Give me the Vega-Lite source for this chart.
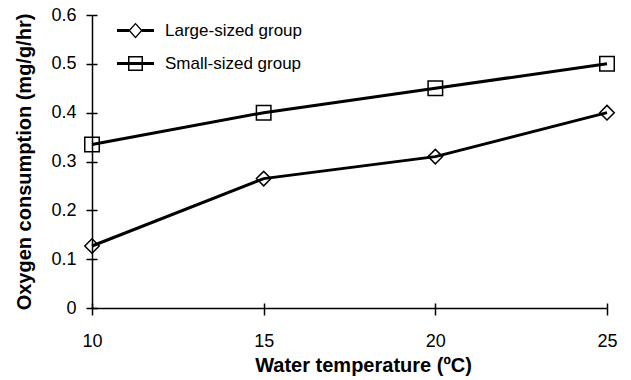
{
  "$schema": "https://vega.github.io/schema/vega-lite/v6.json",
  "width": 515,
  "height": 293,
  "autosize": "none",
  "padding": {"left": 92, "top": 15, "right": 24, "bottom": 72},
  "background": "white",
  "config": {
    "view": {"stroke": null},
    "font": "Liberation Sans",
    "axis": {
      "grid": false,
      "domainColor": "black",
      "tickColor": "black",
      "labelColor": "black",
      "titleColor": "black",
      "labelFont": "Liberation Sans",
      "titleFont": "Liberation Sans",
      "domainWidth": 1.5,
      "tickWidth": 1.5,
      "labelFlush": false
    }
  },
  "data": {
    "values": [
      {"temp": 10, "value": 0.127, "group": "Large-sized group"},
      {"temp": 15, "value": 0.265, "group": "Large-sized group"},
      {"temp": 20, "value": 0.31, "group": "Large-sized group"},
      {"temp": 25, "value": 0.4, "group": "Large-sized group"},
      {"temp": 10, "value": 0.335, "group": "Small-sized group"},
      {"temp": 15, "value": 0.4, "group": "Small-sized group"},
      {"temp": 20, "value": 0.45, "group": "Small-sized group"},
      {"temp": 25, "value": 0.5, "group": "Small-sized group"}
    ]
  },
  "layer": [
    {
      "mark": {"type": "line", "color": "black", "strokeWidth": 3},
      "encoding": {
        "x": {
          "field": "temp", "type": "quantitative",
          "scale": {"domain": [10, 25], "nice": false, "zero": false},
          "axis": {
            "values": [10, 15, 20, 25], "tickSize": 7, "labelFontSize": 18,
            "labelPadding": 17, "labelFlush": false, "title": "Water temperature (ºC)",
            "titleFontSize": 20, "titleFontWeight": "bold", "titlePadding": 5, "titleX": 271
          }
        },
        "y": {
          "field": "value", "type": "quantitative",
          "scale": {"domain": [0, 0.6], "nice": false},
          "axis": {
            "values": [0, 0.1, 0.2, 0.3, 0.4, 0.5, 0.6], "format": ".1~f",
            "tickSize": 6, "labelFontSize": 18, "labelPadding": 10, "labelFlush": false,
            "title": "Oxygen consumption (mg/g/hr)", "titleFontSize": 20,
            "titleFontWeight": "bold", "titlePadding": 16
          }
        },
        "detail": {"field": "group"}
      }
    },
    {
      "mark": {"type": "point", "filled": false, "color": "black", "strokeWidth": 1.5, "size": 210, "opacity": 1},
      "encoding": {
        "x": {
          "field": "temp", "type": "quantitative",
          "axis": {"orient": "top", "offset": -293, "values": [10, 15, 20, 25], "tickSize": 5, "labels": false, "domain": false, "title": null}
        },
        "y": {
          "field": "value", "type": "quantitative",
          "axis": {"orient": "right", "offset": -515, "values": [0, 0.1, 0.2, 0.3, 0.4, 0.5, 0.6], "tickSize": 5, "labels": false, "domain": false, "title": null}
        },
        "shape": {
          "field": "group", "type": "nominal",
          "scale": {"domain": ["Large-sized group", "Small-sized group"], "range": ["diamond", "square"]},
          "legend": null
        }
      }
    },
    {
      "mark": {"type": "point", "filled": true, "color": "black", "size": 225, "opacity": 0},
      "encoding": {
        "x": {"field": "temp", "type": "quantitative", "axis": null},
        "y": {"field": "value", "type": "quantitative", "axis": null},
        "shape": {
          "field": "group", "type": "nominal",
          "scale": {
            "domain": ["Large-sized group", "Small-sized group"],
            "range": [
              "M-2.47,-0.2H-0.85V0.2H-2.47ZM0.85,-0.2H2.47V0.2H0.85ZM0.95,0L0,1.05L-0.95,0L0,-1.05ZM0.7,0L0,-0.8L-0.7,0L0,0.8Z",
              "M-2.47,-0.2H2.47V0.2H-2.47ZM-1,-1H1V1H-1ZM-0.8,-0.8V0.8H0.8V-0.8Z"
            ]
          },
          "legend": {
            "title": null, "orient": "none", "legendX": 35, "legendY": 7,
            "padding": 0, "symbolSize": 225, "symbolOpacity": 1,
            "symbolFillColor": "black", "symbolStrokeWidth": 0,
            "labelFontSize": 17, "labelFont": "Liberation Sans", "labelColor": "black",
            "labelOffset": 21, "rowPadding": 15
          }
        }
      }
    }
  ],
  "resolve": {
    "scale": {"shape": "independent"},
    "axis": {"x": "independent", "y": "independent"},
    "legend": {"shape": "independent"}
  }
}
